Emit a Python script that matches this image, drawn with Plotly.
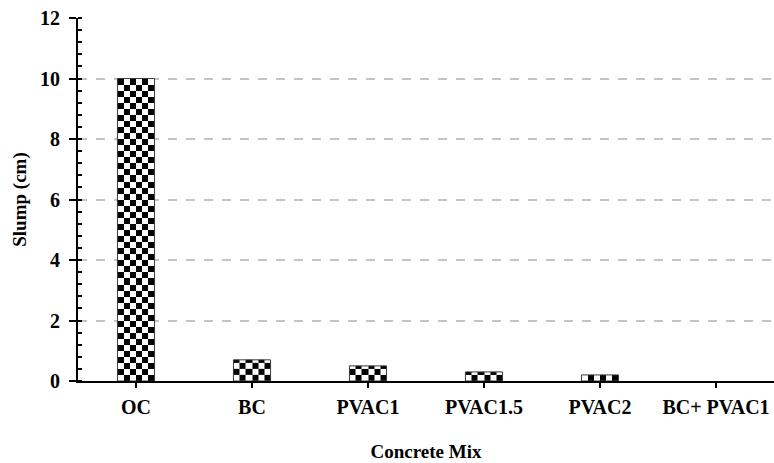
import numpy as np
import plotly.graph_objects as go

# Slump test results per concrete mix
categories = ["OC", "BC", "PVAC1", "PVAC1.5", "PVAC2", "BC+ PVAC1"]
slump_cm = [10.0, 0.7, 0.5, 0.3, 0.2, 0.0]

FONT = "Liberation Serif"
BAR_W = 0.32
N_COLS = 6       # checker columns across one bar
ROW_H = 0.2      # checker row height in cm

x_pos = list(range(len(categories)))

fig = go.Figure()

# checkerboard fill for each bar, built as a two-colour heatmap
for i, v in zip(x_pos, slump_cm):
    if v <= 0:
        continue
    x_edges = np.linspace(i - BAR_W / 2, i + BAR_W / 2, N_COLS + 1)
    y_edges = np.arange(0, v, ROW_H)
    y_edges = np.append(y_edges[y_edges < v - 1e-9], v)
    n_rows = len(y_edges) - 1
    z = [[(r + c) % 2 for c in range(N_COLS)] for r in range(n_rows)]
    fig.add_trace(go.Heatmap(
        x=x_edges, y=y_edges, z=z,
        colorscale=[[0, "white"], [1, "black"]], zmin=0, zmax=1,
        showscale=False, hoverinfo="skip",
    ))

# bar outlines (none for empty bars)
fig.add_trace(go.Bar(
    x=x_pos, y=slump_cm, width=BAR_W,
    marker=dict(color="rgba(0,0,0,0)",
                line=dict(color="#3a3a3a", width=[1 if v > 0 else 0 for v in slump_cm])),
    showlegend=False,
))

# inner half of the major ticks on the y axis
fig.add_trace(go.Scatter(x=[0], y=[0], yaxis="y2", mode="markers",
                         marker=dict(opacity=0), showlegend=False, hoverinfo="skip"))

fig.update_layout(
    width=774, height=463,
    margin=dict(l=78, r=0, t=18, b=82),
    paper_bgcolor="white", plot_bgcolor="white",
    showlegend=False,
    font=dict(family=FONT, color="black"),
    xaxis=dict(
        range=[-0.5, 5.5], tickvals=x_pos, ticktext=categories,
        showline=True, linecolor="black", linewidth=2,
        ticks="outside", ticklen=5, tickwidth=2, tickcolor="black",
        showgrid=False, zeroline=False,
        tickfont=dict(family=FONT, size=20, weight="bold", color="black"),
        ticklabelstandoff=2,
        title=dict(text="Concrete Mix",
                   font=dict(family=FONT, size=19, weight="bold", color="black"),
                   standoff=28),
    ),
    yaxis=dict(
        range=[0, 12], dtick=2, tick0=0,
        showline=True, linecolor="black", linewidth=2,
        ticks="outside", ticklen=7, tickwidth=2, tickcolor="black",
        minor=dict(dtick=0.4, ticks="inside", ticklen=4, tickwidth=2, tickcolor="black",
                   showgrid=False),
        showgrid=True, gridcolor="#c4c4c4", gridwidth=2, griddash="dash",
        zeroline=False,
        tickfont=dict(family=FONT, size=20, weight="bold", color="black"),
        ticklabelstandoff=5,
        title=dict(text="Slump (cm)",
                   font=dict(family=FONT, size=19, weight="bold", color="black"),
                   standoff=8),
    ),
    yaxis2=dict(
        overlaying="y", side="left", range=[0, 12], dtick=2, tick0=0,
        ticks="inside", ticklen=4, tickwidth=2, tickcolor="black",
        showticklabels=False, showgrid=False, zeroline=False, showline=False,
    ),
)

fig.write_html("out.html")
